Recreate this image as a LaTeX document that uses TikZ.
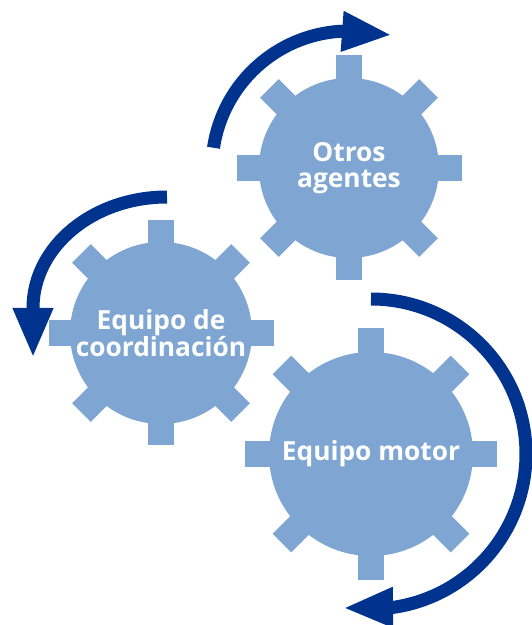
\documentclass[tikz,border=0pt]{standalone}
\usepackage{fontspec}
\setmainfont{Open Sans}
\usetikzlibrary{arrows.meta, backgrounds}
\definecolor{gearblue}{RGB}{127,166,211}
\definecolor{turnblue}{RGB}{0,51,141}

\begin{document}
\begin{tikzpicture}[x=1pt, y=1pt,
    gear/.style={circle, fill=gearblue, text=white, inner sep=0pt, align=center,
      font=\fontsize{26.3}{25.5}\selectfont\bfseries},
    tooth/.style={rectangle, fill=gearblue, inner sep=0pt,
      minimum width=32pt, minimum height=26.5pt},
    turn/.style={draw=turnblue, line width=13pt,
      -{Triangle[length=50pt, width=37pt]}}]
  \useasboundingbox (0,0) rectangle (532,625);

  % gears
  \node[gear, minimum size=180pt] (otros) at (349,457) {Otros\\agentes};
  \node[gear, minimum size=182pt] (coord) at (161,292) {Equipo de\\coordinación};
  \node[gear, minimum size=204pt] (motor) at (371,171) {Equipo motor};

  \begin{scope}[on background layer]
    \foreach \g/\r in {otros/96.5, coord/96.5, motor/110}
      \foreach \a in {0,45,...,315}
        \node[tooth, rotate=\a] at ([shift={(\a:\r)}]\g.center) {};
  \end{scope}

  % turning arrows
  \draw[turn] ([shift={(171.5:137)}]otros.center)
    arc[start angle=171.5, end angle=93.5, radius=137]
    -- ([shift={(43,133)}]otros.center);
  \draw[turn] ([shift={(6,136)}]coord.center)
    arc[start angle=90, end angle=180, x radius=134, y radius=111]
    -- ([shift={(-128,-25)}]coord.center);
  \draw[turn] ([shift={(90:155)}]motor.center)
    arc[start angle=90, end angle=-81.8, radius=155]
    -- ([shift={(-28,-154)}]motor.center);
\end{tikzpicture}
\end{document}
